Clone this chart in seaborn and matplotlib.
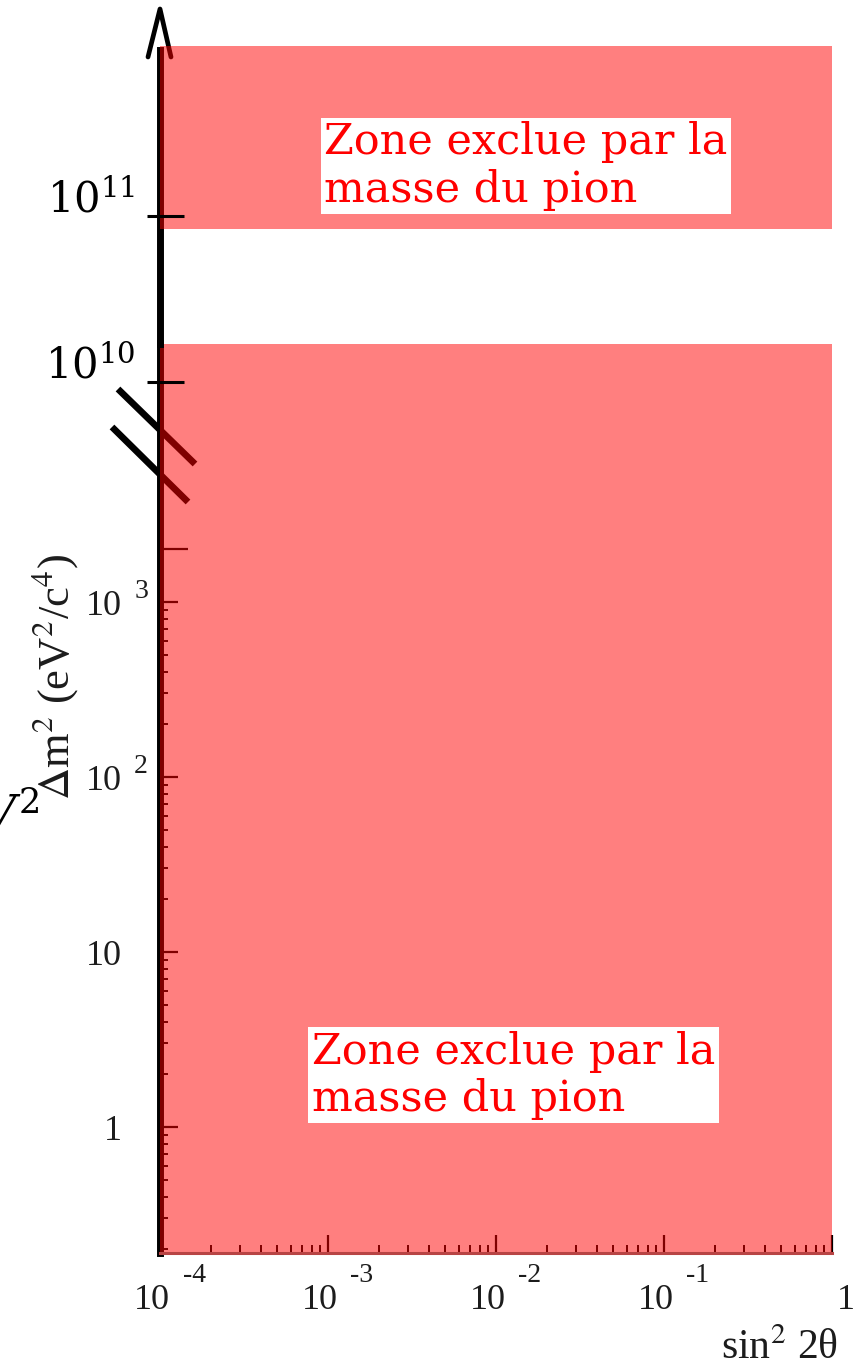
import numpy as np
import matplotlib
matplotlib.use("Agg")
import matplotlib.pyplot as plt
import matplotlib.transforms as mtransforms
from matplotlib.lines import Line2D
import seaborn as sns

# ---------------- data ----------------
sin2_range = [1e-4, 1.0]                 # sin^2(2θ) extent of both excluded zones
lower_zone = [0.19, 3.0e4]               # Δm² band of the lower panel (eV²/c⁴)
upper_zone = [8.3e10, 1.05e12]           # Δm² band of the upper panel (eV²/c⁴)
lower_ylim = [0.19, 3.0e4]
upper_ylim = [2.57e9, 2.0e12]
upper_spine = [1.7e10, 1.0e12]

x_major = [1e-4, 1e-3, 1e-2, 1e-1, 1.0]
x_labels = [("10", "-4"), ("10", "-3"), ("10", "-2"), ("10", "-1"), ("1", "")]
y_major = [1, 10, 100, 1000]
y_labels = [("1", ""), ("10", ""), ("10", "2"), ("10", "3")]
y_top_tick = 2000
upper_ticks = [1e10, 1e11]
upper_labels = [r"$10^{10}$", r"$10^{11}$"]
zone_text = "Zone exclue par la\nmasse du pion"
ylabel_text = r"$\Delta$m$^2$ (eV$^2$/c$^4$)"
xlabel_text = r"sin$^2$ 2θ"

# ---------------- style ----------------
sns.set_theme(style="white")
plt.rcParams["font.family"] = ["Liberation Serif", "DejaVu Serif"]
plt.rcParams["mathtext.fontset"] = "stix"

W, H = 858, 1369
fig = plt.figure(figsize=(W / 100, H / 100), dpi=100)
fig.patch.set_facecolor("white")


def rect(x0, y0, x1, y1):
    """pixel box (origin top-left) -> figure-fraction rectangle"""
    return [x0 / W, 1 - y1 / H, (x1 - x0) / W, (y1 - y0) / H]


# pixel coordinates (origin top-left) for the decorations
px = mtransforms.Affine2D().scale(1 / W, -1 / H).translate(0, 1) + fig.transFigure

RED = "#ff0000"
TXT = "#1c1c1c"
ZONE_FS = 31
ZONE_LS = 1.16

# ---------------- lower panel ----------------
ax_lo = fig.add_axes(rect(160, 343.5, 832, 1253.2))
ax_lo.set_xscale("log")
ax_lo.set_yscale("log")
ax_lo.set_xlim(*sin2_range)
ax_lo.set_ylim(*lower_ylim)
ax_lo.patch.set_alpha(0)
sns.despine(ax=ax_lo)

ax_lo.spines["left"].set_color("black")
ax_lo.spines["left"].set_linewidth(5)
ax_lo.spines["bottom"].set_color("#b84444")
ax_lo.spines["bottom"].set_linewidth(2.2)
ax_lo.spines["bottom"].set_zorder(6)

ax_lo.set_xticks(x_major)
ax_lo.set_xticks([k * 10.0 ** n for n in range(-4, 0) for k in range(2, 10)], minor=True)
ax_lo.set_yticks(y_major)
ax_lo.set_yticks([k * 10.0 ** n for n in range(-1, 3) for k in range(2, 10)
                  if k * 10.0 ** n >= lower_ylim[0]], minor=True)
ax_lo.tick_params(which="both", direction="in", color="black", labelleft=False,
                  labelbottom=False, left=True, bottom=True)
ax_lo.tick_params(which="major", length=13, width=1.6)
ax_lo.tick_params(which="minor", length=6, width=1.4)

# longer tick at the top of the lower scale
ax_lo.hlines([y_top_tick], 0, 28 / 672, transform=ax_lo.get_yaxis_transform(),
             color="black", lw=1.6, zorder=2)

# axis-break marks
for x0, y0, x1, y1 in [(118, 389, 195, 464), (112, 427, 188, 502)]:
    ax_lo.add_line(Line2D([x0, x1], [y0, y1], transform=px, color="black", lw=4.8,
                          solid_capstyle="butt", zorder=1, clip_on=False))

# excluded zone (lower)
ax_lo.fill_between(sin2_range, lower_zone[0], lower_zone[1], color=RED, alpha=0.5,
                   lw=0, zorder=5)

# tick labels of the lower panel
for xv, (base, sup) in zip(x_major, x_labels):
    ax_lo.annotate(base, xy=(xv, 0), xycoords=("data", "axes fraction"),
                   xytext=(-8 if sup else 14, -56), textcoords="offset pixels",
                   ha="center", va="baseline", fontsize=26, color=TXT,
                   annotation_clip=False)
    if sup:
        ax_lo.annotate(sup, xy=(xv, 0), xycoords=("data", "axes fraction"),
                       xytext=(34, -29), textcoords="offset pixels",
                       ha="center", va="baseline", fontsize=20, color=TXT,
                       annotation_clip=False)

for yv, (base, sup) in zip(y_major, y_labels):
    ax_lo.annotate(base, xy=(0, yv), xycoords=("axes fraction", "data"),
                   xytext=(-38, -13), textcoords="offset pixels",
                   ha="right", va="baseline", fontsize=26, color=TXT,
                   annotation_clip=False)
    if sup:
        ax_lo.annotate(sup, xy=(0, yv), xycoords=("axes fraction", "data"),
                       xytext=(-19, 4), textcoords="offset pixels",
                       ha="center", va="baseline", fontsize=20, color=TXT,
                       annotation_clip=False)

ax_lo.annotate(zone_text, xy=(0.226, 0.2448), xycoords="axes fraction",
               ha="left", va="top", fontsize=ZONE_FS, color=RED, family="DejaVu Serif",
               linespacing=ZONE_LS, zorder=7,
               bbox=dict(boxstyle="square,pad=0.08", facecolor="white", edgecolor="none"))

# ---------------- upper panel ----------------
ax_up = fig.add_axes(rect(160, 0, 832, 480))
ax_up.set_xscale("log")
ax_up.set_yscale("log")
ax_up.set_xlim(*sin2_range)
ax_up.set_ylim(*upper_ylim)
ax_up.patch.set_alpha(0)
for side in ["top", "right", "bottom"]:
    ax_up.spines[side].set_visible(False)
ax_up.spines["left"].set_color("black")
ax_up.spines["left"].set_linewidth(5)
ax_up.spines["left"].set_bounds(*upper_spine)
ax_up.tick_params(which="both", left=False, bottom=False, labelleft=False,
                  labelbottom=False)
ax_up.minorticks_off()

# arrow head on top of the vertical axis
ax_up.add_line(Line2D([148, 160, 171], [57, 9, 57], transform=px, color="black",
                      lw=3.4, solid_joinstyle="round", solid_capstyle="round",
                      zorder=1, clip_on=False))

# excluded zone (upper)
ax_up.fill_between(sin2_range, upper_zone[0], upper_zone[1], color=RED, alpha=0.5,
                   lw=0, zorder=5)

ax_up.hlines(upper_ticks, -13 / 672, 24 / 672, transform=ax_up.get_yaxis_transform(),
             color="black", lw=2.2, zorder=6, clip_on=False)
for yv, lab in zip(upper_ticks, upper_labels):
    ax_up.annotate(lab, xy=(0, yv), xycoords=("axes fraction", "data"),
                   xytext=(-25, 4), textcoords="offset pixels",
                   ha="right", va="baseline", fontsize=30, color="black",
                   math_fontfamily="dejavuserif", annotation_clip=False)

ax_up.annotate(zone_text, xy=(0.244, 0.747), xycoords="axes fraction",
               ha="left", va="top", fontsize=ZONE_FS, color=RED, family="DejaVu Serif",
               linespacing=ZONE_LS, zorder=7,
               bbox=dict(boxstyle="square,pad=0.08", facecolor="white", edgecolor="none"))

# ---------------- axis titles ----------------
fig.text(55 / W, 1 - 677 / H, ylabel_text, rotation=90, ha="center", va="center",
         fontsize=32, color=TXT)
fig.text(838 / W, 1 - 1359 / H, xlabel_text, ha="right", va="baseline",
         fontsize=30, color=TXT)
fig.text(40 / W, 1 - 832 / H, r"$V^2$", ha="right", va="baseline", fontsize=36,
         color="black", math_fontfamily="dejavuserif")

fig.savefig("out.png", dpi=100, facecolor="white")
